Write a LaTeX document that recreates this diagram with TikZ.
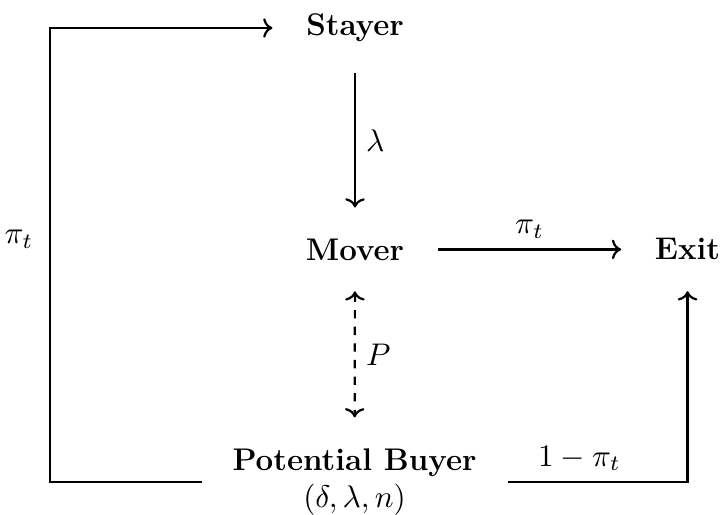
\RequirePackage{fix-cm}
\documentclass[tikz,border=0pt,11pt]{standalone}
\usepackage{tikz}
\usetikzlibrary{arrows.meta,positioning,calc}

\begin{document}
\begin{tikzpicture}[
  every node/.style={font=\fontsize{11.3}{13.6}\selectfont},
  state/.style={inner xsep=12pt, inner ysep=11pt, font=\fontsize{11.3}{13.6}\selectfont\bfseries},
  flow/.style={->, thick},
  pflow/.style={<->, thick, dashed},
]
  \useasboundingbox (0,0) rectangle (9.162,-6.535);

  % States
  \node[state] (stayer) at (4.505, -0.355) {Stayer};
  \node[state] (mover) at (4.505, -3.165) {Mover};
  \node[state] (exit) at (8.725, -3.165) {Exit};
  \node[state, align=center, inner xsep=11pt, inner ysep=11pt] (buyer) at (4.499, -6.117)
    {Potential Buyer\\ \mdseries $(\delta,\lambda,n)$};

  % Corner of the outer loop
  \coordinate (lcorner) at (0.635, -6.117);

  % Transitions
  \draw[flow] (stayer) -- node[right] {$\lambda$} (mover);
  \draw[flow] (mover) -- node[above] {$\pi_t$} (exit);
  \draw[pflow] (mover) -- node[right] {$P$} (buyer);

  % Loops back from the buyer
  \draw[flow] (buyer.west) -- (lcorner) |- (stayer.west)
    node[pos=0.267, left, xshift=-2pt] {$\pi_t$};
  \draw[flow] (buyer.east) -| (exit.south)
    node[pos=0.2, above] {$1-\pi_t$};
\end{tikzpicture}
\end{document}
